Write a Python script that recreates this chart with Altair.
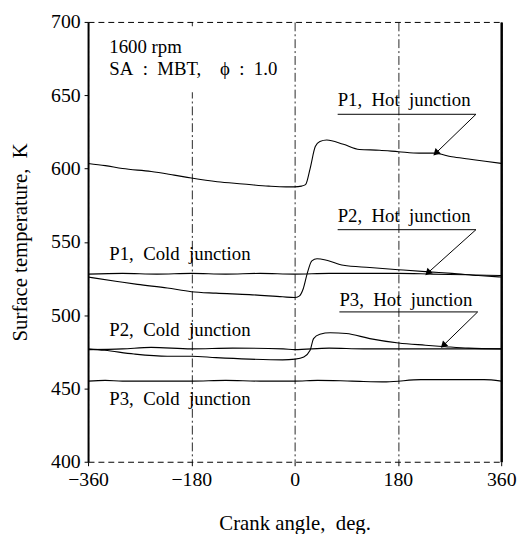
import altair as alt
import pandas as pd

# ---- data (crank angle deg, surface temperature K) ----
p1_hot_x = [-360, -330, -300, -250, -210, -180, -135, -90, -45, -15, 0, 12, 19, 27, 36, 44, 56, 85, 113, 148, 181, 217, 243, 274, 303, 332, 360]
p1_hot_y = [603.5, 602, 600, 598, 595.5, 593.5, 591, 589.5, 588, 587.5, 587.5, 588, 589, 600, 615, 618.5, 619.5, 616.5, 613, 612.5, 611.5, 610.5, 610.5, 608, 606.5, 605, 603.5]

p1_cold_x = [-360, -300, -240, -180, -120, -60, 0, 60, 120, 180, 240, 300, 360]
p1_cold_y = [528, 528.5, 528, 528.5, 528, 528.5, 528, 528.5, 528.5, 528.5, 528, 527.5, 527]

p2_hot_x = [-360, -309, -274, -222, -180, -137, -79, -21, 0, 8, 15, 22, 30, 39, 56, 85, 131, 181, 234, 274, 320, 360]
p2_hot_y = [526, 523, 521, 518.5, 516, 515, 514, 512.5, 512, 513, 518, 528.5, 537, 538.5, 537.5, 534, 532.5, 531, 529.5, 528.5, 527, 526]

p2_cold_x = [-360, -300, -250, -180, -108, -20, 0, 60, 120, 180, 240, 300, 360]
p2_cold_y = [476.5, 477, 478, 477, 477.5, 477, 476.5, 477.5, 477, 477, 477, 477, 477]

p3_hot_x = [-360, -331, -280, -222, -180, -137, -79, -21, 1, 16, 27, 33, 44, 62, 90, 131, 181, 228, 263, 303, 360]
p3_hot_y = [477, 476, 473.5, 472, 472, 471, 470, 469.5, 470, 471.5, 476, 484, 487, 488, 487.5, 484, 481, 479.5, 478.5, 477.5, 477]

p3_cold_x = [-360, -330, -300, -240, -180, -120, -60, 0, 40, 100, 160, 220, 280, 330, 360]
p3_cold_y = [455, 455.5, 455, 455, 455, 455.5, 455, 455, 455.5, 455, 454.5, 456, 456, 456, 455]

series_names = ["P1 hot", "P1 cold", "P2 hot", "P2 cold", "P3 hot", "P3 cold"]
series_xs = [p1_hot_x, p1_cold_x, p2_hot_x, p2_cold_x, p3_hot_x, p3_cold_x]
series_ys = [p1_hot_y, p1_cold_y, p2_hot_y, p2_cold_y, p3_hot_y, p3_cold_y]

S = "\u00a0"
# labels (text, x, y)
label_texts = ["1600" + S + "rpm",
               "SA" + S * 2 + ":" + S * 2 + "MBT," + S * 4 + "\u03d5" + S * 2 + ":" + S * 2 + "1.0",
               "P1," + S * 2 + "Hot" + S * 2 + "junction",
               "P2," + S * 2 + "Hot" + S * 2 + "junction",
               "P3," + S * 2 + "Hot" + S * 2 + "junction",
               "P1," + S * 2 + "Cold" + S * 2 + "junction",
               "P2," + S * 2 + "Cold" + S * 2 + "junction",
               "P3," + S * 2 + "Cold" + S * 2 + "junction"]
label_x = [-323, -323, 75, 75, 78, -323, -323, -323]
label_y = [683, 668, 647, 567.5, 510, 542, 490, 443]

# leader lines: underline start, underline end, arrow tip
leader_names = ["P1", "P2", "P3"]
leader_x0 = [75, 75, 78]
leader_x1 = [316, 316, 319]
leader_yu = [637, 558.3, 502.2]
leader_tx = [246, 232, 259]
leader_ty = [610.5, 528.8, 479.3]

# mask behind the condition text (covers the grid line)
mask_x = [-345]
mask_x2 = [-15]
mask_y = [652]
mask_y2 = [697]

x_ticks = [-360, -180, 0, 180, 360]
y_ticks = [400, 450, 500, 550, 600, 650, 700]

# ---- tables ----
rows = []
for n, xs, ys in zip(series_names, series_xs, series_ys):
    for i, (a, b) in enumerate(zip(xs, ys)):
        rows.append({"series": n, "x": a, "y": b, "o": i})
lines_df = pd.DataFrame(rows)

labels_df = pd.DataFrame({"text": label_texts, "x": label_x, "y": label_y})

lrows = []
for n, a0, a1, yu, tx, ty in zip(leader_names, leader_x0, leader_x1, leader_yu, leader_tx, leader_ty):
    lrows.append({"g": n, "x": a0, "y": yu, "o": 0})
    lrows.append({"g": n, "x": a1, "y": yu, "o": 1})
    lrows.append({"g": n, "x": tx, "y": ty, "o": 2})
leaders_df = pd.DataFrame(lrows)
tips_df = pd.DataFrame({"x": leader_tx, "y": leader_ty})
mask_df = pd.DataFrame({"x": mask_x, "x2": mask_x2, "y": mask_y, "y2": mask_y2})

FONT = "Liberation Serif"
xscale = alt.Scale(domain=[-360, 360], nice=False, zero=False)
yscale = alt.Scale(domain=[400, 700], nice=False, zero=False)

x_axis = alt.Axis(values=x_ticks, title="Crank" + S + "angle," + S * 2 + "deg.", labelFontSize=20, titleFontSize=21,
                  labelFlush=False, labelPadding=4, tickSize=4, tickColor="black",
                  domainColor="black", domainDash=[6, 4], domainWidth=1,
                  grid=True, gridDash=[9, 3, 2, 3], gridColor="black", gridWidth=1, gridOpacity=0.85,
                  titlePadding=24, labelColor="black", titleColor="black",
                  titleFontWeight="normal", labelFont=FONT, titleFont=FONT)
y_axis = alt.Axis(values=y_ticks, title="Surface" + S + "temperature," + S * 2 + "K", labelFontSize=20, titleFontSize=21,
                  labelPadding=4, tickSize=4, tickColor="black", domainColor="black", domainWidth=2,
                  grid=False, titlePadding=20, labelColor="black", titleColor="black",
                  titleFontWeight="normal", labelFont=FONT, titleFont=FONT)

lines = alt.Chart(lines_df).mark_line(color="black", strokeWidth=1.1, interpolate="monotone").encode(
    x=alt.X("x:Q", scale=xscale, axis=x_axis),
    y=alt.Y("y:Q", scale=yscale, axis=y_axis),
    detail="series:N",
    order="o:Q",
)

mask = alt.Chart(mask_df).mark_rect(color="white").encode(
    x=alt.X("x:Q", scale=xscale, axis=None), x2="x2:Q",
    y=alt.Y("y:Q", scale=yscale, axis=None), y2="y2:Q",
)

texts = alt.Chart(labels_df).mark_text(font=FONT, fontSize=19, align="left", baseline="middle", color="black").encode(
    x=alt.X("x:Q", scale=xscale,
            axis=alt.Axis(orient="top", labels=False, ticks=False, grid=False, title=None,
                          domainColor="black", domainDash=[6, 4], domainWidth=1, zindex=1)),
    y=alt.Y("y:Q", scale=yscale,
            axis=alt.Axis(orient="right", labels=False, ticks=False, grid=False, title=None,
                          domainColor="black", domainWidth=2.5, zindex=1)),
    text="text:N",
)

leaders = alt.Chart(leaders_df).mark_line(color="black", strokeWidth=1).encode(
    x=alt.X("x:Q", scale=xscale, axis=None),
    y=alt.Y("y:Q", scale=yscale, axis=None),
    detail="g:N",
    order="o:Q",
)

tips = alt.Chart(tips_df).mark_point(shape="triangle-up", filled=True, color="black", size=60, angle=226, opacity=1).encode(
    x=alt.X("x:Q", scale=xscale, axis=None),
    y=alt.Y("y:Q", scale=yscale, axis=None),
)

chart = alt.layer(lines, mask, texts, leaders, tips).resolve_axis(
    x="independent", y="independent"
).properties(
    width=418, height=445,
    autosize=alt.AutoSizeParams(type="none"),
    padding={"left": 81, "top": 11, "right": 17, "bottom": 70},
).configure_view(stroke=None)

chart.save("out.html", embed_options={"renderer": "svg", "actions": False})
